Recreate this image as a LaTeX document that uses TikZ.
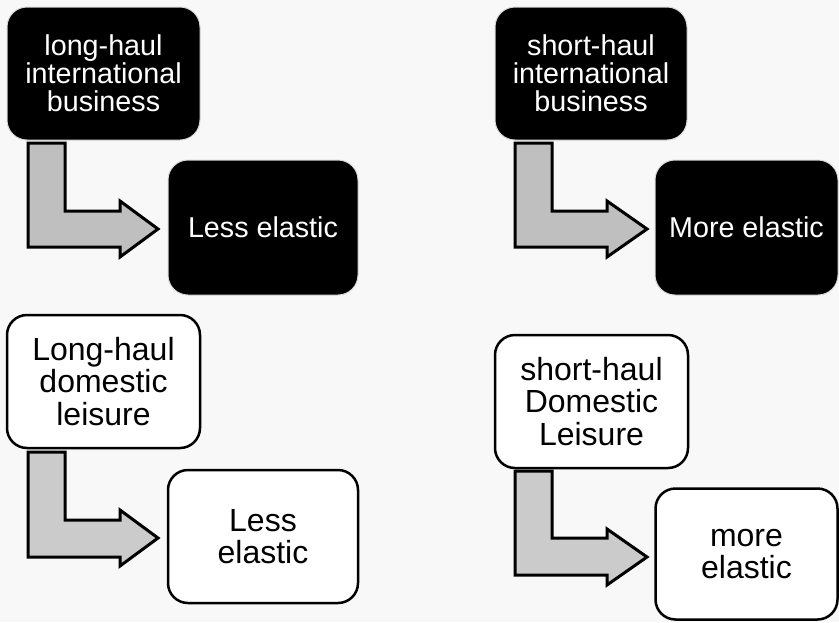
\documentclass[tikz,border=0pt]{standalone}
\usepackage{fontspec}
\setmainfont{Liberation Sans}
\definecolor{bg}{HTML}{F8F8F8}
\definecolor{arrtop}{HTML}{BFBFBF}
\definecolor{arrbot}{HTML}{CBCBCB}
\definecolor{rimgray}{HTML}{DADADA}
\newcommand{\elbow}[9]{%
  % #1 fill, #2 L, #3 R, #4 T, #5 H (shaft top), #6 B (shaft bottom), #7 head start, #8 tip, #9 midline
  \draw[elbowline, fill=#1] (#2,#4) -- (#3,#4) -- (#3,#5) -- (#7,#5) -- (#7,#9-28) -- (#8,#9)
    -- (#7,#9+28) -- (#7,#6) -- (#2,#6) -- cycle;}
\begin{document}
\begin{tikzpicture}[x=1pt,y=-1pt,
  darkbox/.style={draw=rimgray, line width=1pt, fill=black, text=white, rounded corners=20pt,
    align=center, inner sep=0pt, font=\fontsize{28.7}{28}\selectfont},
  lightbox/.style={draw=black, line width=2.5pt, fill=white, text=black, rounded corners=20pt,
    align=center, inner sep=0pt, font=\fontsize{32}{32.5}\selectfont},
  elbowline/.style={draw=black, line width=3pt, line join=miter}]
\useasboundingbox (0,0) rectangle (839,622);
\fill[bg] (0,0) rectangle (839,622);

% top left
\node[darkbox, minimum width=193pt, minimum height=133pt] (tl) at (103.5,73.5) {long-haul\\international\\business};
\node[darkbox, minimum width=190pt, minimum height=135pt] (tlr) at (263,227.5) {Less elastic};
\elbow{arrtop}{28}{65}{143}{211}{247}{120}{158}{229}

% top right
\node[darkbox, minimum width=192pt, minimum height=133pt] (tr) at (591,73.5) {short-haul\\international\\business};
\node[darkbox, minimum width=183pt, minimum height=135pt] (trr) at (746.5,227.5) {More elastic};
\elbow{arrtop}{515}{552}{143}{211}{247}{607}{647}{229}

% bottom left
\node[lightbox, minimum width=193pt, minimum height=133pt] (bl) at (103.5,381.5) {Long-haul\\domestic\\leisure};
\node[lightbox, minimum width=190pt, minimum height=133pt] (blr) at (263,536.5) {Less\\elastic};
\elbow{arrbot}{28}{65}{452}{520}{557}{120}{158}{538}

% bottom right
\node[lightbox, minimum width=193pt, minimum height=133pt] (br) at (591.5,401.5) {short-haul\\Domestic\\Leisure};
\node[lightbox, minimum width=182pt, minimum height=131pt] (brr) at (746.5,554) {more\\elastic};
\elbow{arrbot}{515}{552}{471}{538}{575}{607}{647}{557}
\end{tikzpicture}
\end{document}
